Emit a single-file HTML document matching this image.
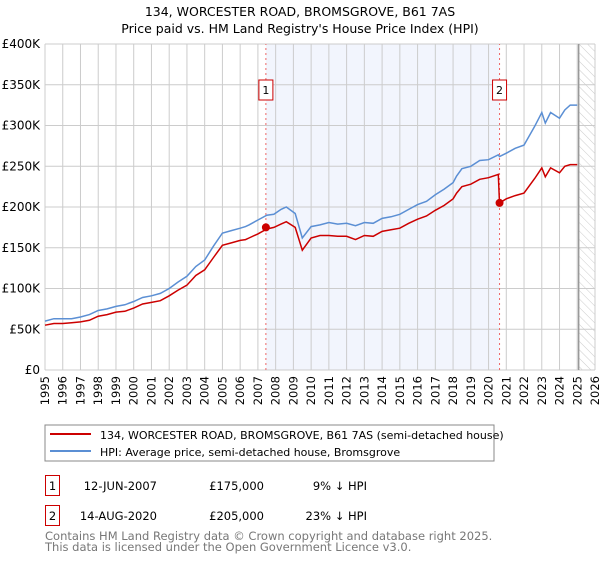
<!DOCTYPE html>
<html><head><meta charset="utf-8"><style>
body{margin:0;background:#fff;font-family:"DejaVu Sans","Liberation Sans",sans-serif;}
svg text{font-family:"DejaVu Sans","Liberation Sans",sans-serif;}
</style></head><body>
<svg id="chart" width="600" height="560">
<defs><pattern id="hatch" width="6" height="6" patternUnits="userSpaceOnUse" patternTransform="rotate(-45)"><line x1="0" y1="0" x2="0" y2="6" stroke="#ccc" stroke-width="1"/></pattern></defs>
<text x="300" y="16" text-anchor="middle" font-size="12.5">134, WORCESTER ROAD, BROMSGROVE, B61 7AS</text>
<text x="300" y="33" text-anchor="middle" font-size="12.5">Price paid vs. HM Land Registry's House Price Index (HPI)</text>
<g id="plot"></g>
<rect x="45" y="425" width="449" height="36" fill="#fff" stroke="#888"/>
<line x1="50" y1="434" x2="91" y2="434" stroke="#cc0000" stroke-width="2"/>
<text x="100" y="439" font-size="11">134, WORCESTER ROAD, BROMSGROVE, B61 7AS (semi-detached house)</text>
<line x1="50" y1="451" x2="91" y2="451" stroke="#5b8fd4" stroke-width="2"/>
<text x="100" y="456" font-size="11">HPI: Average price, semi-detached house, Bromsgrove</text>
<g font-size="11.5">
<rect x="45.5" y="475.5" width="14" height="20" fill="#fff" stroke="#cc0000"/>
<text x="52.5" y="490" text-anchor="middle">1</text>
<text x="157" y="490" text-anchor="end">12-JUN-2007</text>
<text x="264" y="490" text-anchor="end">£175,000</text>
<text x="367" y="490" text-anchor="end">9% ↓ HPI</text>
<rect x="45.5" y="505.5" width="14" height="20" fill="#fff" stroke="#cc0000"/>
<text x="52.5" y="520" text-anchor="middle">2</text>
<text x="157" y="520" text-anchor="end">14-AUG-2020</text>
<text x="264" y="520" text-anchor="end">£205,000</text>
<text x="367" y="520" text-anchor="end">23% ↓ HPI</text>
</g>
<text x="45" y="540" font-size="11.5" fill="#777">Contains HM Land Registry data © Crown copyright and database right 2025.</text>
<text x="45" y="551" font-size="11.5" fill="#777">This data is licensed under the Open Government Licence v3.0.</text>
</svg>
<script>
const years=[1995,1995.5,1996,1996.5,1997,1997.5,1998,1998.5,1999,1999.5,2000,2000.5,2001,2001.5,2002,2002.5,2003,2003.5,2004,2004.5,2005,2005.5,2006,2006.3,2006.5,2007,2007.5,2007.9,2008.3,2008.6,2009.1,2009.5,2010,2010.5,2011,2011.5,2012,2012.5,2013,2013.5,2014,2014.5,2015,2015.5,2016,2016.5,2017,2017.5,2018,2018.2,2018.5,2019,2019.5,2020,2020.55,2020.62,2021,2021.5,2022,2022.6,2023,2023.2,2023.5,2024,2024.3,2024.6,2025];
const hpi=[60,63,63,63,65,68,73,75,78,80,84,89,91,94,100,108,115,127,135,152,168,171,174,176,178,184,190,191,197,200,192,162,176,178,181,179,180,177,181,180,186,188,191,197,203,207,215,222,230,238,247,250,257,258,264,262,266,272,276,299,316,303,316,309,319,325,325];
const price=[55,57,57,58,59,61,66,68,71,72,76,81,83,85,91,98,104,116,123,138,153,156,159,160,162,167,173,175,179,182,175,147,162,165,165,164,164,160,165,164,170,172,174,180,185,189,196,202,210,217,225,228,234,236,240,205,210,214,217,235,248,237,248,242,250,252,252];
const xTicks=[1995,1996,1997,1998,1999,2000,2001,2002,2003,2004,2005,2006,2007,2008,2009,2010,2011,2012,2013,2014,2015,2016,2017,2018,2019,2020,2021,2022,2023,2024,2025,2026];
const yTicks=[0,50,100,150,200,250,300,350,400];
const yLabels=["£0","£50K","£100K","£150K","£200K","£250K","£300K","£350K","£400K"];
const sales=[{t:2007.45,v:175,n:"1"},{t:2020.62,v:205,n:"2"}];
const X=t=>45+(t-1995)*550/31, Y=v=>370-v*326/400;
const NS="http://www.w3.org/2000/svg",g=document.getElementById('plot');
function mk(tag,a,p){const e=document.createElementNS(NS,tag);for(const k in a)e.setAttribute(k,a[k]);(p||g).appendChild(e);return e;}
const sh=mk('rect',{x:X(sales[0].t),y:Y(400),width:X(sales[1].t)-X(sales[0].t),height:Y(0)-Y(400),fill:'#f2f5fd'});


const ht=mk('rect',{x:X(2025.1),y:Y(400),width:X(2026)-X(2025.1),height:Y(0)-Y(400),fill:'url(#hatch)'});


xTicks.forEach(t=>{const l=mk('line',{x1:X(t),x2:X(t),y1:Y(0),y2:Y(400),stroke:'#ccc'});


const tx=mk('text',{x:X(t)+4,y:376,'font-size':11.5,transform:`rotate(-90 ${X(t)+4} 376)`,'text-anchor':'end'});tx.textContent=t;

});
yTicks.forEach((v,i)=>{const l=mk('line',{x1:X(1995),x2:X(2026),y1:Y(v),y2:Y(v),stroke:'#ccc'});


const tx=mk('text',{x:40,y:Y(v)+4,'font-size':12,'text-anchor':'end'});tx.textContent=yLabels[i];

});
const nl=mk('line',{x1:X(2025.08),x2:X(2025.08),y1:Y(0),y2:Y(400),stroke:'#999','stroke-width':1.5});


sales.forEach(s=>{const d=mk('line',{x1:X(s.t),x2:X(s.t),y1:Y(0),y2:Y(400),stroke:'#e66','stroke-dasharray':'2,3'});


const b=mk('rect',{x:X(s.t)-7,y:80,width:14,height:20,fill:'#fff',stroke:'#cc0000'});


const tx=mk('text',{x:X(s.t),y:94,'font-size':11,'text-anchor':'middle'});tx.textContent=s.n;

});
const pts=a=>a.map((v,i)=>X(years[i]).toFixed(1)+','+Y(v).toFixed(1)).join(' ');
const hl=mk('polyline',{points:pts(hpi),fill:'none',stroke:'#5b8fd4','stroke-width':1.5});


const pl=mk('polyline',{points:pts(price),fill:'none',stroke:'#cc0000','stroke-width':1.5});


sales.forEach(s=>{const c=mk('circle',{cx:X(s.t),cy:Y(s.v),r:4,fill:'#cc0000'});

});
</script>
</body></html>
